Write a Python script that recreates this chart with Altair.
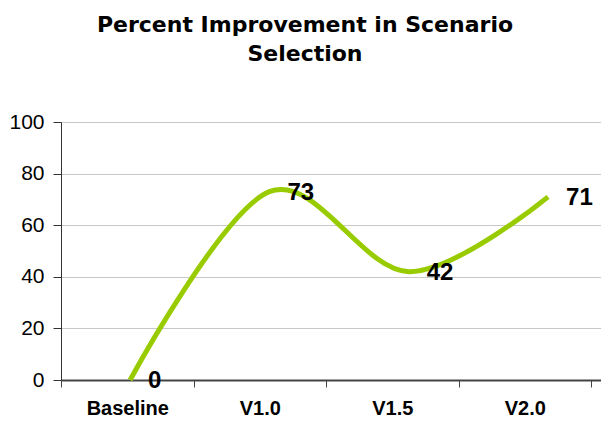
import altair as alt
import pandas as pd

categories = ["Baseline", "V1.0", "V1.5", "V2.0"]
values = [0, 73, 42, 71]
labels = ["0", "73", "42", "71"]
y_ticks = [0, 20, 40, 60, 80, 100]

df = pd.DataFrame({"version": categories, "pct": values, "label": labels})

def point_x():
    return alt.X("version:N", sort=categories,
                 scale=alt.Scale(type="point", padding=0.438, align=0.566),
                 axis=None)

y_enc = alt.Y("pct:Q", scale=alt.Scale(domain=[0, 100]),
              axis=alt.Axis(values=y_ticks, title=None, grid=True,
                            gridColor="#c8c8c8", gridWidth=1,
                            tickSize=8, labelPadding=9, labelFontSize=21,
                            labelFont="Liberation Sans", labelColor="black",
                            domainColor="#333333", tickColor="#333333"))

line = alt.Chart(df).mark_line(
    interpolate="cardinal", color="#99CC00", strokeWidth=5
).encode(x=point_x(), y=y_enc)

text = alt.Chart(df).mark_text(
    align="left", baseline="middle", dx=18, dy=1, fontSize=24,
    fontWeight="bold", font="Liberation Sans", color="black"
).encode(x=point_x(), y=alt.Y("pct:Q"), text="label:N")

axis_layer = alt.Chart(df).mark_point(opacity=0).encode(
    x=alt.X("version:N", sort=categories,
            scale=alt.Scale(type="band", paddingInner=0, paddingOuter=0.0377, align=0),
            axis=alt.Axis(title=None, labelAngle=0, tickBand="extent", tickSize=7,
                          labelPadding=11, labelFontSize=20, labelFontWeight="bold",
                          labelFont="Liberation Sans", labelColor="black",
                          domainColor="#444444", domainWidth=2, tickColor="#444444",
                          grid=False)),
    y=alt.Y("pct:Q"),
)

chart = alt.layer(line, text, axis_layer).resolve_scale(x="independent").properties(
    width=540, height=258,
    padding={"left": 0, "top": 6, "right": 0, "bottom": 0},
    title=alt.TitleParams(["Percent Improvement in Scenario", "Selection"],
                          fontSize=22, font="DejaVu Sans", fontWeight="bold",
                          frame="bounds", anchor="middle", lineHeight=29,
                          offset=45, color="black"),
).configure_view(stroke=None)

chart.save("out.html", embed_options={"renderer": "svg", "actions": False})
